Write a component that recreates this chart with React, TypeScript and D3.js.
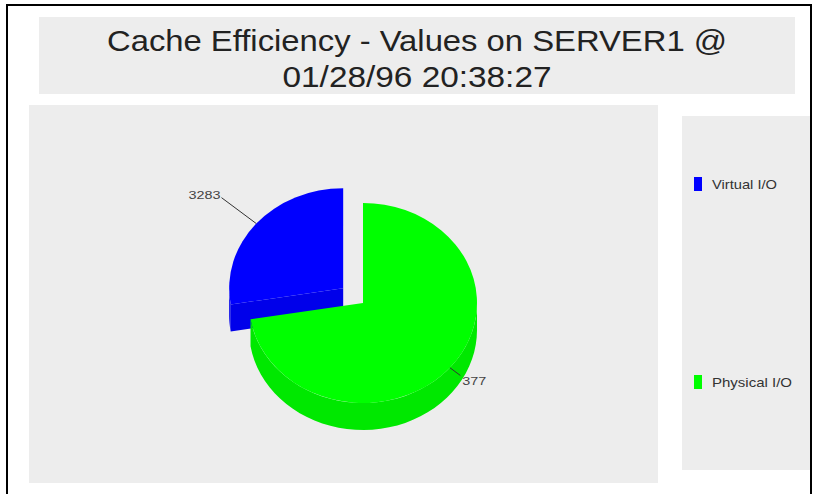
import { useEffect, useRef } from 'react';
import * as d3 from 'd3';

const categories = ['Virtual I/O', 'Physical I/O'];
// slice sizes (percent of the pie)
const shares = [27.6, 72.4];
const valueLabels = ['3283', '377'];
const titleLines = ['Cache Efficiency - Values on SERVER1 @', '01/28/96 20:38:27'];

const faceColors = ['#0000ff', '#00ff00'];
const sideColors = ['#0000ea', '#00e800'];

const W = 814;
const H = 494;

export default function App() {
  const svgRef = useRef<SVGSVGElement>(null);

  useEffect(() => {
    const svg = d3.select(svgRef.current);
    svg.selectAll('*').remove();
    const font = 'Liberation Sans, Arial, Helvetica, sans-serif';

    // outer frame
    svg.append('rect')
      .attr('x', 7).attr('y', 5).attr('width', 804).attr('height', 500)
      .attr('fill', '#fff').attr('stroke', '#000').attr('stroke-width', 2);

    // title box
    svg.append('rect')
      .attr('x', 39).attr('y', 17).attr('width', 756).attr('height', 77)
      .attr('fill', '#ededed');
    const titleWidths = [620, 269];
    svg.selectAll('text.title')
      .data(titleLines)
      .enter()
      .append('text')
      .attr('class', 'title')
      .attr('x', 417)
      .attr('y', (d, i) => 51 + i * 36)
      .attr('text-anchor', 'middle')
      .attr('font-family', font)
      .attr('font-size', 29)
      .attr('fill', '#222')
      .attr('textLength', (d, i) => titleWidths[i])
      .attr('lengthAdjust', 'spacingAndGlyphs')
      .text(d => d);

    // plot + legend panels
    svg.append('rect')
      .attr('x', 29).attr('y', 105).attr('width', 629).attr('height', 378)
      .attr('fill', '#ededed');
    svg.append('rect')
      .attr('x', 682).attr('y', 116).attr('width', 128).attr('height', 354)
      .attr('fill', '#ededed');

    // 3D pie
    const cx = 363, cy = 303, rx = 114, ry = 100, depth = 27, explode = 26;
    const k = ry / rx;
    const x = d3.scaleLinear().domain([-1, 1]).range([cx - rx, cx + rx]);
    const y = d3.scaleLinear().domain([-1, 1]).range([cy - ry, cy + ry]);

    const total = d3.sum(shares);
    const start = -2 * Math.PI * shares[0] / total;
    const pie = d3.pie<number>().sort(null).startAngle(start).endAngle(start + 2 * Math.PI);
    const arcs = pie(shares);
    const arcGen = d3.arc<d3.PieArcDatum<number>>().innerRadius(0).outerRadius(rx);
    const line = d3.line();

    const pt = (a: number, f: number, ox: number, oy: number, dz = 0): [number, number] =>
      [x(f * Math.sin(a)) + ox, y(-f * Math.cos(a)) + oy + dz];

    const offsets = arcs.map((a, i) => {
      const mid = (a.startAngle + a.endAngle) / 2;
      const e = i === 0 ? explode : 0;
      return [e * Math.sin(mid), -e * Math.cos(mid) * k];
    });

    const g = svg.append('g');
    arcs.forEach((a, i) => {
      const [ox, oy] = offsets[i];
      const side = sideColors[i];

      // radial walls facing the viewer
      const walls: number[] = [];
      if (Math.sin(a.startAngle) < -1e-6) walls.push(a.startAngle);
      if (Math.sin(a.endAngle) > 1e-6) walls.push(a.endAngle);
      walls.forEach(ang => {
        const c0 = pt(0, 0, ox, oy);
        const p0 = pt(ang, 1, ox, oy);
        g.append('path')
          .attr('d', line([c0, p0, pt(ang, 1, ox, oy, depth), pt(0, 0, ox, oy, depth)]) + 'Z')
          .attr('fill', side);
      });

      // outer wall, only the front half is visible
      let a0 = a.startAngle, a1 = a.endAngle;
      while (a0 < 0) { a0 += 2 * Math.PI; a1 += 2 * Math.PI; }
      const lo = Math.max(a0, Math.PI / 2);
      const hi = Math.min(a1, 3 * Math.PI / 2);
      if (hi > lo) {
        const steps = d3.range(0, 41).map(s => lo + (hi - lo) * s / 40);
        const top = steps.map(t => pt(t, 1, ox, oy));
        const bottom = steps.slice().reverse().map(t => pt(t, 1, ox, oy, depth));
        g.append('path')
          .attr('d', line([...top, ...bottom]) + 'Z')
          .attr('fill', side);
      }

      // top face
      g.append('path')
        .attr('transform', `translate(${cx + ox},${cy + oy}) scale(1,${k})`)
        .attr('d', arcGen(a))
        .attr('fill', faceColors[i]);
    });

    // value labels with leader lines
    const leaderExt = [1.4, 1.12];
    arcs.forEach((a, i) => {
      const [ox, oy] = offsets[i];
      const mid = (a.startAngle + a.endAngle) / 2;
      const p1 = pt(mid, 1, ox, oy);
      const p2 = pt(mid, leaderExt[i], ox, oy);
      g.append('line')
        .attr('x1', p1[0]).attr('y1', p1[1]).attr('x2', p2[0]).attr('y2', p2[1])
        .attr('stroke', '#333').attr('stroke-width', 1);
      const left = p2[0] < cx;
      g.append('text')
        .attr('x', left ? p2[0] - 1 : p2[0] + 2)
        .attr('y', left ? p2[1] + 1 : p2[1] + 10)
        .attr('text-anchor', left ? 'end' : 'start')
        .attr('font-family', font)
        .attr('font-size', 10)
        .attr('fill', '#444')
        .attr('textLength', valueLabels[i].length * 8)
        .attr('lengthAdjust', 'spacingAndGlyphs')
        .text(valueLabels[i]);
    });

    // legend
    const ly = d3.scalePoint<string>().domain(categories).range([184, 382]);
    const legendWidths = [65, 80];
    const items = svg.selectAll('g.legend')
      .data(categories)
      .enter()
      .append('g')
      .attr('class', 'legend')
      .attr('transform', d => `translate(0,${ly(d)})`);
    items.append('rect')
      .attr('x', 694).attr('y', -7).attr('width', 8).attr('height', 14)
      .attr('fill', (d, i) => faceColors[i]);
    items.append('text')
      .attr('x', 712).attr('y', 4.5)
      .attr('font-family', font)
      .attr('font-size', 13)
      .attr('fill', '#333')
      .attr('textLength', (d, i) => legendWidths[i])
      .attr('lengthAdjust', 'spacingAndGlyphs')
      .text(d => d);
  }, []);

  return (
    <svg
      ref={svgRef}
      width={W}
      height={H}
      style={{ position: 'absolute', left: 0, top: 0, background: '#fff' }}
    />
  );
}
